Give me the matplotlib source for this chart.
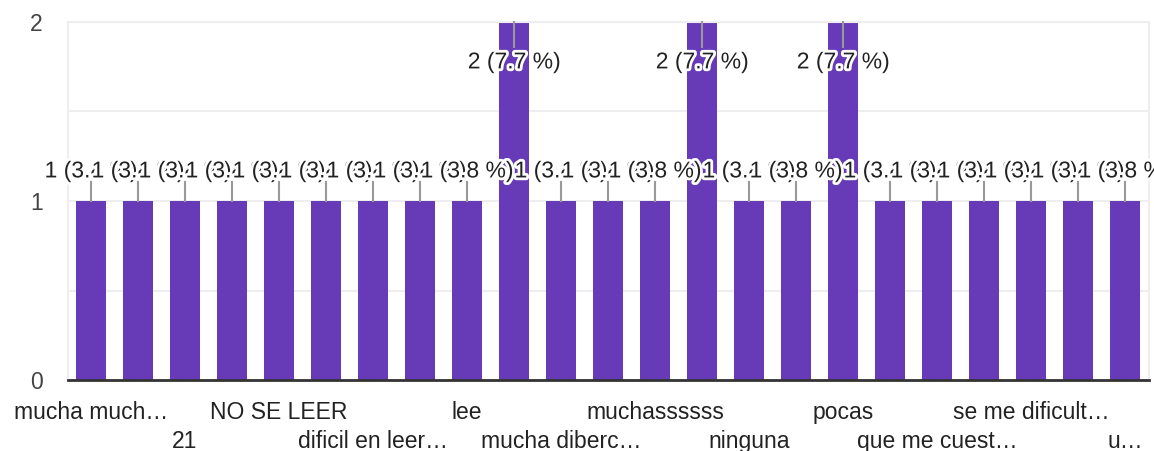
import matplotlib.pyplot as plt
import matplotlib.patheffects as pe
import numpy as np

# categories (only every other label is shown on the chart)
categories = ['mucha much…', '', '21', '', 'NO SE LEER', '', 'dificil en leer…', '',
              'lee', '', 'mucha diberc…', '', 'muchassssss', '', 'ninguna', '',
              'pocas', '', 'que me cuest…', '', 'se me dificult…', '', 'u…']
counts = [1, 1, 1, 1, 1, 1, 1, 1, 1, 2, 1, 1, 1, 2, 1, 1, 2, 1, 1, 1, 1, 1, 1]
y_ticks = [0, 1, 2]

purple = '#673ab7'
plt.rcParams['font.family'] = ['Liberation Sans', 'DejaVu Sans']

fig = plt.figure(figsize=(11.54, 4.51), dpi=100)
ax = fig.add_axes([67.5 / 1154, 71 / 451, 1081 / 1154, 358 / 451])

x = np.arange(len(counts))
total = sum(counts)
ax.bar(x, counts, width=0.64, color=purple, zorder=2)

ax.set_xlim(-0.5, len(counts) - 0.5)
ax.set_ylim(0, 2)
ax.set_yticks(y_ticks)
ax.set_yticks([0.5, 1.5], minor=True)
ax.yaxis.grid(True, which='both', color='#eeeeee', linewidth=1.5, zorder=0)
ax.tick_params(axis='y', which='both', length=0, pad=18, labelsize=16.5, labelcolor='#444444')
ax.set_xticks([])
for s in ['top', 'left', 'right']:
    ax.spines[s].set_color('#eeeeee')
    ax.spines[s].set_linewidth(1.5)
ax.spines['bottom'].set_color('#333333')
ax.spines['bottom'].set_linewidth(2)
ax.spines['bottom'].set_zorder(5)

# value labels with leader lines
z = 3
for i, c in enumerate(counts):
    pct = c / total * 100
    txt = f'{c} ({pct:.1f} %)'
    if c >= 2:
        ty, l0, l1 = 1.777, 1.86, 2.0
    else:
        ty, l0, l1 = 1.168, c, 1.106
    ax.plot([i, i], [l0, l1], color='#999999', linewidth=1.5, zorder=z, clip_on=False)
    ax.text(i, ty, txt, ha='center', va='center', fontsize=16.5, color='#222222', zorder=z + 1,
            path_effects=[pe.withStroke(linewidth=4, foreground='white')])
    z += 2

# category labels in two alternating rows
row = 0
for i, lab in enumerate(categories):
    if i % 2:
        continue
    off = -39 if row == 0 else -68
    ax.annotate(lab, xy=(i, 0), xycoords=('data', 'axes fraction'), xytext=(0, off),
                textcoords='offset pixels', ha='center', va='baseline', fontsize=16.5,
                color='#222222', annotation_clip=False)
    row = 1 - row

fig.savefig('out.png', dpi=100)
